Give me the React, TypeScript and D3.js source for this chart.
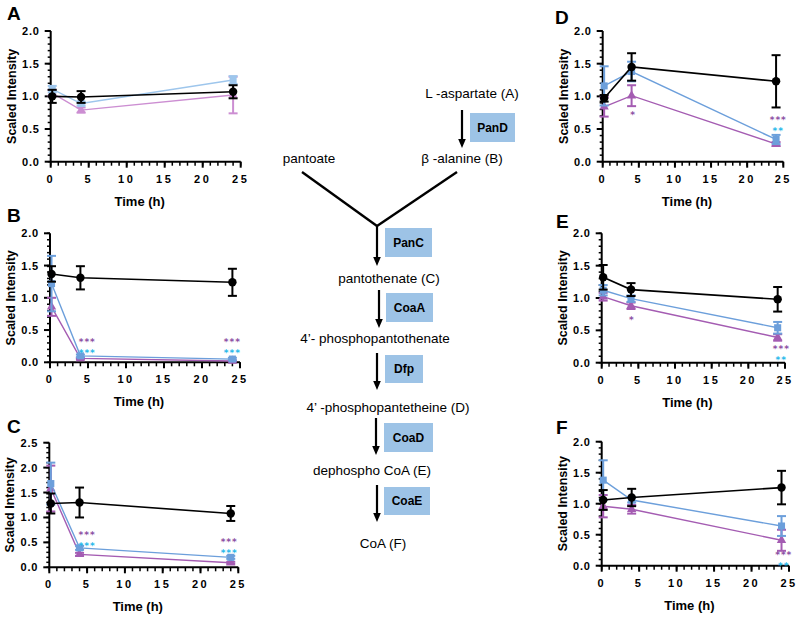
import React from "react";
import * as d3 from "d3";

// ---------- data ----------
const timesH = [0.2, 4, 24];
const xTicksMajor = [0, 5, 10, 15, 20, 25];

// Panel A: L-aspartate
const A_black = [1.0, 0.99, 1.07];
const A_blackErr = [0.1, 0.09, 0.1];
const A_blue = [1.11, 0.89, 1.25];
const A_blueErr = [0.05, 0.03, 0.06];
const A_purple = [1.05, 0.79, 1.02];
const A_purpleErr = [0.05, 0.04, 0.28];
const A_stars: [number, number, string, string][] = [];

// Panel B: beta-alanine
const B_black = [1.37, 1.31, 1.24];
const B_blackErr = [0.12, 0.18, 0.21];
const B_blue = [1.22, 0.1, 0.05];
const B_blueErr = [0.43, 0.02, 0.02];
const B_purple = [0.86, 0.06, 0.02];
const B_purpleErr = [0.14, 0.01, 0.01];
const B_stars: [number, number, string, string][] = [
  [4.9, 0.32, "***", "p"], [4.9, 0.21, "***", "c"],
  [24.0, 0.32, "***", "p"], [24.0, 0.21, "***", "c"],
];

// Panel C: pantothenate
const C_black = [1.28, 1.3, 1.08];
const C_blackErr = [0.2, 0.3, 0.15];
const C_blue = [1.68, 0.39, 0.2];
const C_blueErr = [0.42, 0.04, 0.03];
const C_purple = [1.58, 0.26, 0.09];
const C_purpleErr = [0.46, 0.03, 0.02];
const C_stars: [number, number, string, string][] = [
  [5.0, 0.65, "***", "p"], [5.0, 0.51, "***", "c"],
  [23.8, 0.51, "***", "p"], [23.8, 0.37, "***", "c"],
];

// Panel D: 4'-phosphopantetheine
const D_black = [0.97, 1.45, 1.23];
const D_blackErr = [0.05, 0.21, 0.4];
const D_blue = [1.16, 1.38, 0.34];
const D_blueErr = [0.3, 0.15, 0.07];
const D_purple = [0.84, 1.01, 0.27];
const D_purpleErr = [0.15, 0.16, 0.03];
const D_stars: [number, number, string, string][] = [
  [4.2, 0.75, "*", "p"],
  [24.3, 0.65, "***", "p"], [24.3, 0.53, "**", "c"],
];

// Panel E: dephospho CoA
const E_black = [1.32, 1.13, 0.98];
const E_blackErr = [0.19, 0.1, 0.19];
const E_blue = [1.12, 0.99, 0.54];
const E_blueErr = [0.08, 0.05, 0.09];
const E_purple = [1.02, 0.88, 0.39];
const E_purpleErr = [0.06, 0.05, 0.05];
const E_stars: [number, number, string, string][] = [
  [4.1, 0.69, "*", "p"],
  [24.5, 0.22, "***", "p"], [24.5, 0.11, "**", "c"],
];

// Panel F: CoA
const F_black = [1.06, 1.1, 1.26];
const F_blackErr = [0.16, 0.14, 0.27];
const F_blue = [1.38, 1.06, 0.64];
const F_blueErr = [0.32, 0.04, 0.16];
const F_purple = [0.96, 0.91, 0.41];
const F_purpleErr = [0.18, 0.07, 0.17];
const F_stars: [number, number, string, string][] = [
  [24.3, 0.18, "***", "p"], [24.3, 0.06, "**", "c"],
];

// ---------- styling ----------
const FONT = "'Liberation Sans', Arial, Helvetica, sans-serif";
const STAR_FONT = "'DejaVu Sans', sans-serif";
const STAR_FS = 9;
const STAR_GAP = 10.6;
const BLACK = "#000000";
const BLUE = "#6c9fdb";
const PURPLE = "#a45cb2";
const BLUE_LIGHT = "#9ec6ec";
const PURPLE_LIGHT = "#cc8ed2";
const STAR_P = "#8c4fa3";
const STAR_C = "#27b8ea";

type Series = { mean: number[]; err: number[]; color: string; shape: string };
type Panel = {
  id: string; x0: number; x1: number; yTop: number; yBot: number; yMax: number;
  lx: number; ly: number; series: Series[]; stars: [number, number, string, string][];
};

const mk = (black: number[], be: number[], blue: number[], ble: number[], pur: number[], pe: number[], light = false): Series[] => [
  { mean: pur, err: pe, color: light ? PURPLE_LIGHT : PURPLE, shape: "tri" },
  { mean: blue, err: ble, color: light ? BLUE_LIGHT : BLUE, shape: "sq" },
  { mean: black, err: be, color: BLACK, shape: "circ" },
];

const panels: Panel[] = [
  { id: "A", x0: 50.7, x1: 240.7, yTop: 31, yBot: 161.7, yMax: 2, lx: 7, ly: 20,
    series: mk(A_black, A_blackErr, A_blue, A_blueErr, A_purple, A_purpleErr, true), stars: A_stars },
  { id: "B", x0: 50, x1: 240, yTop: 233.3, yBot: 362.3, yMax: 2, lx: 7, ly: 222,
    series: mk(B_black, B_blackErr, B_blue, B_blueErr, B_purple, B_purpleErr), stars: B_stars },
  { id: "C", x0: 49.3, x1: 238.3, yTop: 442.7, yBot: 567.3, yMax: 2.5, lx: 7, ly: 433,
    series: mk(C_black, C_blackErr, C_blue, C_blueErr, C_purple, C_purpleErr), stars: C_stars },
  { id: "D", x0: 602.7, x1: 783.3, yTop: 31, yBot: 161.7, yMax: 2, lx: 555, ly: 24,
    series: mk(D_black, D_blackErr, D_blue, D_blueErr, D_purple, D_purpleErr), stars: D_stars },
  { id: "E", x0: 601.7, x1: 785, yTop: 233.3, yBot: 362.7, yMax: 2, lx: 556, ly: 228,
    series: mk(E_black, E_blackErr, E_blue, E_blueErr, E_purple, E_purpleErr), stars: E_stars },
  { id: "F", x0: 601.7, x1: 789, yTop: 441.7, yBot: 565.7, yMax: 2, lx: 556, ly: 434,
    series: mk(F_black, F_blackErr, F_blue, F_blueErr, F_purple, F_purpleErr), stars: F_stars },
];

function ChartPanel({ p }: { p: Panel }) {
  const x = d3.scaleLinear().domain([0, 25]).range([p.x0, p.x1]);
  const y = d3.scaleLinear().domain([0, p.yMax]).range([p.yBot, p.yTop]);
  const yMajor = d3.range(0, p.yMax + 1e-6, 0.5);
  const yMinor = d3.range(0, Math.round(p.yMax * 10) + 1).map((i) => i / 10);
  const xMinor = d3.range(0, 26);
  const line = d3.line<number>().x((_, i) => x(timesH[i])).y((d) => y(d));
  const sym = (shape: string) => {
    const t = shape === "circ" ? d3.symbolCircle : shape === "sq" ? d3.symbolSquare : d3.symbolTriangle;
    const size = shape === "circ" ? 56 : shape === "sq" ? 50 : 38;
    return d3.symbol().type(t).size(size)()!;
  };
  const fmt = d3.format(".1f");
  const midX = (p.x0 + p.x1) / 2 - 6;
  const midY = (p.yTop + p.yBot) / 2;

  // asterisk rows: keep reading positions but ensure stacked rows do not collide
  const starItems: { sx: number; cy: number; t: string; c: string }[] = [];
  d3.group(p.stars, (s) => s[0]).forEach((items, sx) => {
    const rows = items.map(([, sy, t, c]) => ({ sx, cy: y(sy), t, c })).sort((a, b) => a.cy - b.cy);
    if (rows.length === 2 && rows[1].cy - rows[0].cy < STAR_GAP) {
      const m = (rows[0].cy + rows[1].cy) / 2;
      rows[0].cy = m - STAR_GAP / 2;
      rows[1].cy = m + STAR_GAP / 2;
    }
    starItems.push(...rows);
  });

  return (
    <g>
      <text x={p.lx} y={p.ly} fontFamily={FONT} fontWeight="bold" fontSize={19}>{p.id}</text>
      {/* y axis */}
      <line x1={p.x0} x2={p.x0} y1={p.yTop} y2={p.yBot} stroke="#000" strokeWidth={2} />
      {yMinor.map((v) => (
        <line key={"ym" + v} x1={p.x0 - 3} x2={p.x0} y1={y(v)} y2={y(v)} stroke="#000" strokeWidth={1.5} />
      ))}
      {yMajor.map((v) => (
        <g key={"yM" + v}>
          <line x1={p.x0 - 6} x2={p.x0} y1={y(v)} y2={y(v)} stroke="#000" strokeWidth={2} />
          <text x={p.x0 - 11} y={y(v) + 4} textAnchor="end" fontFamily={FONT} fontWeight="bold" fontSize={11} letterSpacing={0.8}>{fmt(v)}</text>
        </g>
      ))}
      {/* x axis */}
      <line x1={p.x0} x2={p.x1} y1={p.yBot} y2={p.yBot} stroke="#000" strokeWidth={2} />
      {xMinor.map((v) => (
        <line key={"xm" + v} x1={x(v)} x2={x(v)} y1={p.yBot} y2={p.yBot + 4} stroke="#000" strokeWidth={1.5} />
      ))}
      {xTicksMajor.map((v) => (
        <g key={"xM" + v}>
          <line x1={x(v)} x2={x(v)} y1={p.yBot} y2={p.yBot + 6} stroke="#000" strokeWidth={2} />
          <text x={x(v)} y={p.yBot + 21} textAnchor="middle" fontFamily={FONT} fontWeight="bold" fontSize={11} letterSpacing={2.5}>{v}</text>
        </g>
      ))}
      <text x={midX} y={p.yBot + 44} textAnchor="middle" fontFamily={FONT} fontWeight="bold" fontSize={13}>Time (h)</text>
      <text transform={`translate(${p.x0 - 35},${midY}) rotate(-90)`} textAnchor="middle" fontFamily={FONT} fontWeight="bold" fontSize={12.5}>Scaled Intensity</text>
      {/* series */}
      {p.series.map((s, si) => (
        <g key={"s" + si}>
          <path d={line(s.mean)!} fill="none" stroke={s.color} strokeWidth={s.color === BLACK ? 1.6 : 1.4} />
          {s.mean.map((m, i) => {
            const cx = x(timesH[i]);
            const hi = y(m + s.err[i]);
            const lo = y(Math.max(0, m - s.err[i]));
            return (
              <g key={"e" + i}>
                <line x1={cx} x2={cx} y1={hi} y2={lo} stroke={s.color} strokeWidth={2} />
                <line x1={cx - 4.5} x2={cx + 4.5} y1={hi} y2={hi} stroke={s.color} strokeWidth={2} />
                <line x1={cx - 4.5} x2={cx + 4.5} y1={lo} y2={lo} stroke={s.color} strokeWidth={2} />
                <path d={sym(s.shape)} transform={`translate(${cx},${y(m)})`} fill={s.color} />
              </g>
            );
          })}
        </g>
      ))}
      {starItems.map((st, i) => (
        <text key={"st" + i} x={x(st.sx)} y={st.cy + STAR_FS * 0.58} textAnchor="middle" fontFamily={STAR_FONT}
          fontWeight="bold" fontSize={STAR_FS} letterSpacing={1} fill={st.c === "p" ? STAR_P : STAR_C}>{st.t}</text>
      ))}
    </g>
  );
}

function Arrow({ x, y1, y2 }: { x: number; y1: number; y2: number }) {
  return (
    <g>
      <line x1={x} x2={x} y1={y1} y2={y2 - 8} stroke="#000" strokeWidth={2.2} />
      <path d={`M${x - 3.8},${y2 - 9} L${x + 3.8},${y2 - 9} L${x},${y2} Z`} fill="#000" />
    </g>
  );
}

function Box({ x1, x2, y1, y2, label }: { x1: number; x2: number; y1: number; y2: number; label: string }) {
  return (
    <g>
      <rect x={x1} y={y1} width={x2 - x1} height={y2 - y1} fill="#9dc3e6" />
      <text x={(x1 + x2) / 2} y={(y1 + y2) / 2 + 4.2} textAnchor="middle" fontFamily={FONT} fontWeight="bold" fontSize={12}>{label}</text>
    </g>
  );
}

function Pathway() {
  const T = (x: number, y: number, s: string) => (
    <text x={x} y={y} textAnchor="middle" fontFamily={FONT} fontSize={13.5}>{s}</text>
  );
  return (
    <g>
      {T(472, 98, "L -aspartate (A)")}
      <Arrow x={462} y1={110} y2={148} />
      <Box x1={470} x2={515} y1={113} y2={142} label="PanD" />
      {T(462, 163, "β -alanine (B)")}
      {T(309, 163, "pantoate")}
      <line x1={302} y1={172} x2={377} y2={226} stroke="#000" strokeWidth={2.4} />
      <line x1={457} y1={172} x2={377} y2={226} stroke="#000" strokeWidth={2.4} />
      <Arrow x={377} y1={225} y2={266} />
      <Box x1={385} x2={432} y1={228} y2={257} label="PanC" />
      {T(389, 283, "pantothenate (C)")}
      <Arrow x={379} y1={290} y2={328} />
      <Box x1={386} x2={433} y1={293} y2={322} label="CoaA" />
      {T(375, 343, "4’- phosphopantothenate")}
      <Arrow x={377} y1={353} y2={390} />
      <Box x1={385} x2={423} y1={355} y2={383} label="Dfp" />
      {T(388, 412, "4’ -phosphopantetheine (D)")}
      <Arrow x={376} y1={418} y2={455} />
      <Box x1={384} x2={433} y1={423} y2={452} label="CoaD" />
      {T(372, 475, "dephospho CoA (E)")}
      <Arrow x={377} y1={485} y2={522} />
      <Box x1={384} x2={430} y1={487} y2={515} label="CoaE" />
      {T(383, 548, "CoA (F)")}
    </g>
  );
}

export default function App() {
  return (
    <svg width={800} height={619} style={{ position: "absolute", left: 0, top: 0, background: "#fff" }}>
      <rect x={0} y={0} width={800} height={619} fill="#fff" />
      {panels.map((p) => <ChartPanel key={p.id} p={p} />)}
      <Pathway />
    </svg>
  );
}
